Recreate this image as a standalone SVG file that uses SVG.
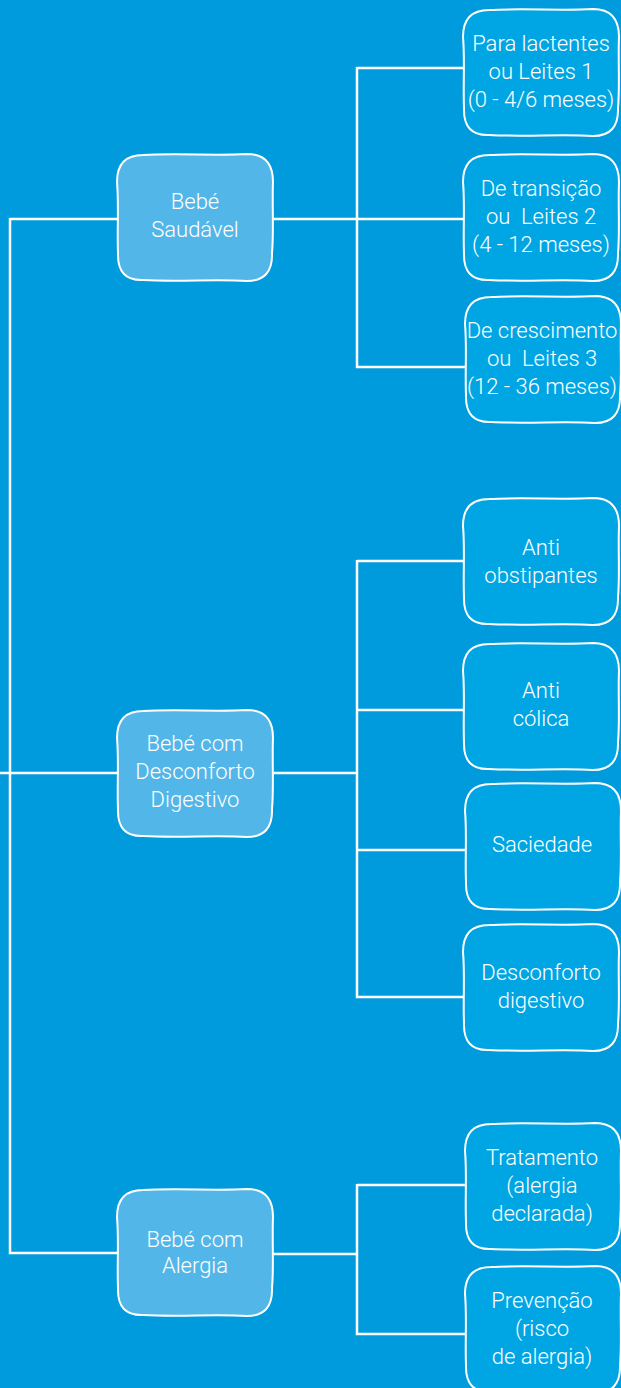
<svg xmlns="http://www.w3.org/2000/svg" width="621" height="1388" viewBox="0 0 621 1388">
<style>
.bg{fill:#009bdd}
.line{fill:none;stroke:#ffffff;stroke-width:2.5}
.main{fill:#52b7e8;stroke:#ffffff;stroke-width:2}
.sub{fill:#00a6e3;stroke:#ffffff;stroke-width:2}
text{font-family:Roboto,"Liberation Sans",Arial,sans-serif;font-weight:300;font-size:22px;fill:#ffffff;text-anchor:middle;white-space:pre}
</style>
<defs>
<path id="box" d="M26,1 C60,-1 100,2 130,0 Q156,0 156,28 C155,50 157,78 155,99 Q156,127 130,127 C100,125 60,128 26,126 Q0,127 1,99 C0,78 2,50 0,28 Q0,1 26,1 Z"/>
</defs>
<rect class="bg" x="0" y="0" width="621" height="1388"/>
<g id="connectors">
<path class="line" d="M10,219 H117 M10,218 V1253 H117 M0,773 H117"/>
<path class="line" d="M273,219 H463 M357,68 H463 M357,67 V367 H465"/>
<path class="line" d="M273,773 H357 M357,560 V997 H463 M357,561 H463 M357,710 H463 M357,850 H465"/>
<path class="line" d="M273,1254 H357 M357,1184 V1334 H465 M357,1185 H465"/>
</g>
<g id="bebe-saudavel"><use href="#box" class="main" x="117" y="154"/><text x="195" y="209">Bebé</text><text x="195" y="237">Saudável</text></g>
<g id="bebe-desconforto"><use href="#box" class="main" x="117" y="710"/><text x="195" y="751">Bebé com</text><text x="195" y="779">Desconforto</text><text x="195" y="807">Digestivo</text></g>
<g id="bebe-alergia"><use href="#box" class="main" x="117" y="1189"/><text x="195" y="1247">Bebé com</text><text x="195" y="1273">Alergia</text></g>
<g id="leites1"><use href="#box" class="sub" x="463" y="9"/><text x="541" y="51">Para lactentes</text><text x="541" y="79">ou Leites 1</text><text x="541" y="107">(0 - 4/6 meses)</text></g>
<g id="leites2"><use href="#box" class="sub" x="463" y="154"/><text x="541" y="196">De transição</text><text x="541" y="224">ou  Leites 2</text><text x="541" y="252">(4 - 12 meses)</text></g>
<g id="leites3"><use href="#box" class="sub" x="465" y="296"/><text x="542" y="338">De crescimento</text><text x="542" y="366">ou  Leites 3</text><text x="542" y="394">(12 - 36 meses)</text></g>
<g id="anti-obstipantes"><use href="#box" class="sub" x="463" y="498"/><text x="541" y="555">Anti</text><text x="541" y="583">obstipantes</text></g>
<g id="anti-colica"><use href="#box" class="sub" x="463" y="643"/><text x="541" y="698">Anti</text><text x="541" y="726">cólica</text></g>
<g id="saciedade"><use href="#box" class="sub" x="465" y="783"/><text x="542" y="852">Saciedade</text></g>
<g id="desconforto-digestivo"><use href="#box" class="sub" x="463" y="924"/><text x="541" y="980">Desconforto</text><text x="541" y="1008">digestivo</text></g>
<g id="tratamento"><use href="#box" class="sub" x="465" y="1123"/><text x="542" y="1165">Tratamento</text><text x="542" y="1193">(alergia</text><text x="542" y="1221">declarada)</text></g>
<g id="prevencao"><use href="#box" class="sub" x="465" y="1266"/><text x="542" y="1308">Prevenção</text><text x="542" y="1336">(risco</text><text x="542" y="1364">de alergia)</text></g>
</svg>
